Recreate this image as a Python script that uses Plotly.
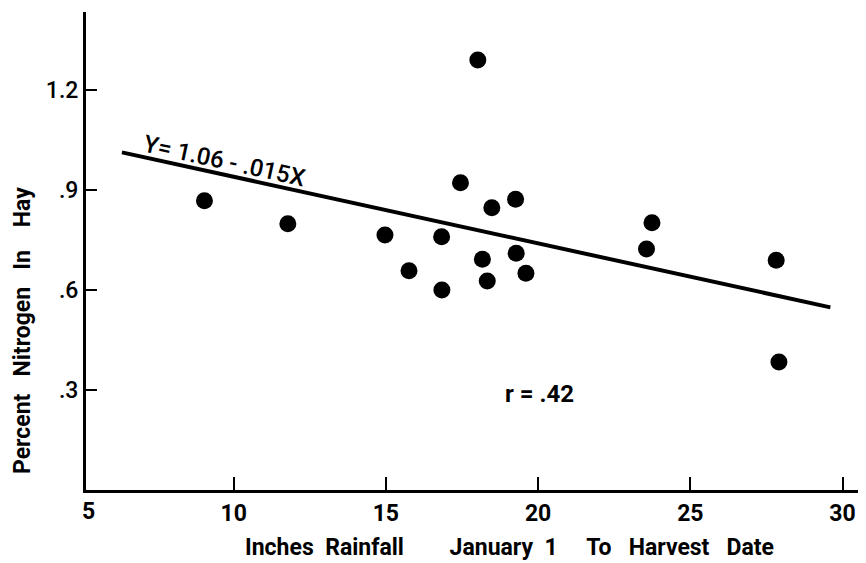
import plotly.graph_objects as go

# Data
rain = [9.04, 11.78, 14.97, 15.76, 16.83, 16.84, 17.45, 18.02, 18.17,
        18.33, 18.48, 19.26, 19.28, 19.60, 23.56, 23.74, 27.82, 27.91]
nitrogen = [0.868, 0.799, 0.765, 0.658, 0.760, 0.600, 0.922, 1.290, 0.692,
            0.627, 0.847, 0.872, 0.710, 0.650, 0.723, 0.802, 0.689, 0.384]

# Regression line as drawn (endpoints)
line_x = [6.33, 29.6]
line_y = [1.013, 0.548]

x_ticks = [10, 15, 20, 25, 30]
x_tick_text = ["10", "15", "20", "25", "30"]
y_ticks = [0.3, 0.6, 0.9, 1.2]
y_tick_text = [".3", ".6", ".9", "1.2"]

FONT = "Roboto, Liberation Sans Narrow, sans-serif"

# page body has an 8px margin: compensate so the plot lands where the reference has it
OFF = 8
W, H = 866 - OFF, 563 - OFF
L, T, B = 86 - OFF, 12 - OFF, 73
PW = W - L
PH = H - T - B


def sp(n):
    return "&nbsp;" * n


fig = go.Figure()
fig.add_trace(go.Scatter(x=line_x, y=line_y, mode="lines",
                         line=dict(color="black", width=4), hoverinfo="skip",
                         showlegend=False))
fig.add_trace(go.Scatter(x=rain, y=nitrogen, mode="markers",
                         marker=dict(color="black", size=17, line=dict(width=0)),
                         showlegend=False))

fig.update_layout(
    width=W, height=H,
    margin=dict(l=L, r=0, t=T, b=B, autoexpand=False),
    plot_bgcolor="white", paper_bgcolor="white",
    font=dict(family=FONT, color="black"),
    xaxis=dict(range=[5.15, 30.77], tickvals=x_ticks, ticktext=x_tick_text,
               ticks="inside", ticklen=13, tickwidth=2, tickcolor="black",
               showline=True, linewidth=3, linecolor="black",
               showgrid=False, zeroline=False, automargin=False,
               tickfont=dict(size=23, family=FONT, weight="bold")),
    yaxis=dict(range=[0, 1.434], tickvals=y_ticks, ticktext=y_tick_text,
               ticks="inside", ticklen=11, tickwidth=2, tickcolor="black",
               showline=True, linewidth=3, linecolor="black",
               showgrid=False, zeroline=False, automargin=False,
               tickfont=dict(size=23, family=FONT, weight=500)),
)

fig.add_annotation(x=5.22, y=0, xref="x", yref="paper",
                   xanchor="center", yanchor="top",
                   text="5", showarrow=False, yshift=-6,
                   font=dict(size=23, family=FONT, weight="bold"))

fig.add_annotation(x=9.69, y=0.987, xref="x", yref="y",
                   xanchor="center", yanchor="middle",
                   text="Y= 1.06 - .015X", showarrow=False, textangle=12.3,
                   font=dict(size=24, family=FONT, weight=500))

fig.add_annotation(x=20.03, y=0.288, xref="x", yref="y",
                   xanchor="center", yanchor="middle",
                   text="r = .42", showarrow=False,
                   font=dict(size=24, family=FONT, weight="bold"))

x_title = ("Inches" + sp(2) + "Rainfall" + sp(8) + "January" + sp(2) + "1"
           + sp(5) + "To" + sp(3) + "Harvest" + sp(3) + "Date")
fig.add_annotation(x=(510 - 86) / PW, y=0, xref="paper", yref="paper",
                   xanchor="center", yanchor="middle", yshift=-57,
                   text=x_title, showarrow=False,
                   font=dict(size=23, family=FONT, weight="bold"))

y_title = "Percent" + sp(3) + "Nitrogen" + sp(3) + "In" + sp(4) + "Hay"
fig.add_annotation(x=(22 - 86) / PW, y=(490 - 331) / PH, xref="paper", yref="paper",
                   xanchor="center", yanchor="middle",
                   text=y_title, showarrow=False, textangle=-90,
                   font=dict(size=23, family=FONT, weight="bold"))

fig.write_html("out.html")
